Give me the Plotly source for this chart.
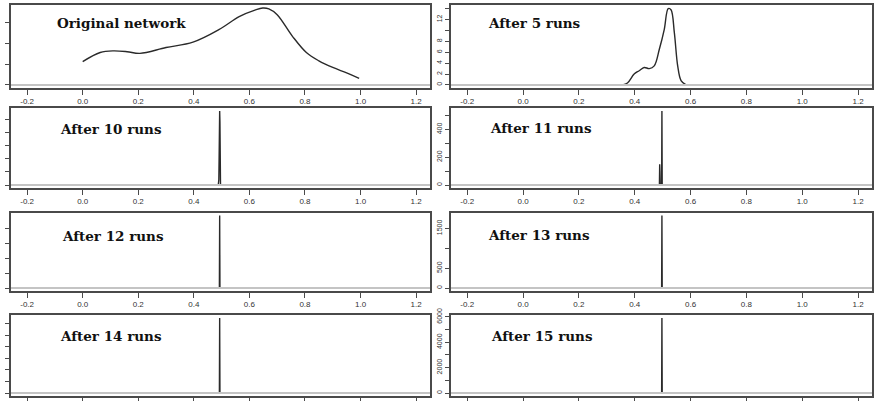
import plotly.graph_objects as go
from plotly.subplots import make_subplots

# ---- data ----
titles = ["Original network", "After 5 runs", "After 10 runs", "After 11 runs",
          "After 12 runs", "After 13 runs", "After 14 runs", "After 15 runs"]

orig_x = [0.0, 0.063, 0.11, 0.16, 0.206, 0.30, 0.397, 0.49, 0.565, 0.62, 0.648, 0.67, 0.70,
          0.755, 0.805, 0.85, 0.90, 0.95, 0.995]
orig_y = [0.56, 0.78, 0.82, 0.80, 0.76, 0.90, 1.03, 1.33, 1.65, 1.80, 1.85, 1.83, 1.69,
          1.17, 0.78, 0.58, 0.42, 0.29, 0.16]

run5_x = [0.356, 0.374, 0.398, 0.416, 0.434, 0.452, 0.47, 0.488, 0.506, 0.52, 0.53,
          0.542, 0.554, 0.566, 0.584]
run5_y = [0.0, 0.36, 2.0, 2.6, 3.2, 3.0, 3.5, 6.5, 10.2, 14.0, 13.8, 9.6, 3.5, 0.8, 0.0]

run10_x = [0.488, 0.490, 0.491, 0.492, 0.493, 0.494, 0.496]
run10_y = [0, 40, 200, 480, 567, 480, 0]

run11_x = [0.4885, 0.4895, 0.4905, 0.4915, 0.4965, 0.4975, 0.4985]
run11_y = [0, 150, 100, 0, 0, 534, 0]

run12_x = [0.492, 0.493, 0.494]
run12_y = [0, 2440, 0]

run13_x = [0.4965, 0.4975, 0.4985]
run13_y = [0, 1824, 0]

run14_x = [0.492, 0.493, 0.494]
run14_y = [0, 6500, 0]

run15_x = [0.4965, 0.4975, 0.4985]
run15_y = [0, 5917, 0]

series = [(orig_x, orig_y), (run5_x, run5_y), (run10_x, run10_y), (run11_x, run11_y),
          (run12_x, run12_y), (run13_x, run13_y), (run14_x, run14_y), (run15_x, run15_y)]
peaks = [1.85, 14.1, 567, 534, 2440, 1824, 6500, 5917]

x_ticks = [-0.2, 0.0, 0.2, 0.4, 0.6, 0.8, 1.0, 1.2]
x_ticktext = ["-0.2", "0.0", "0.2", "0.4", "0.6", "0.8", "1.0", "1.2"]

y_tickvals = [
    [0, 0.5, 1.0, 1.5],
    [0, 2, 4, 6, 8, 10, 12, 14],
    [0, 100, 200, 300, 400, 500],
    [0, 100, 200, 300, 400, 500],
    [0, 500, 1000, 1500, 2000],
    [0, 500, 1000, 1500],
    [0, 1000, 2000, 3000, 4000, 5000, 6000],
    [0, 1000, 2000, 3000, 4000, 5000, 6000],
]
y_ticktext = [
    None,
    ["0", "2", "4", "6", "8", "", "12", ""],
    None,
    ["0", "", "200", "", "400", ""],
    None,
    ["0", "500", "", "1500"],
    None,
    ["0", "", "2000", "", "4000", "", "6000"],
]

# ---- layout ----
W, H = 876, 401
col_px = [(11, 430), (451, 872)]
row_px = [(5, 88), (108, 188), (212.7, 291), (315, 396)]

fig = make_subplots(rows=4, cols=2)

line_col = "#4a4a4a"
for i, (xs, ys) in enumerate(series):
    r, c = i // 2 + 1, i % 2 + 1
    smooth = i < 2
    fig.add_trace(go.Scatter(x=xs, y=ys, mode="lines",
                             line=dict(color="#2a2a2a", width=1.4,
                                       shape="spline" if smooth else "linear",
                                       smoothing=1.0 if smooth else None),
                             showlegend=False, hoverinfo="skip"), row=r, col=c)
    fig.add_hline(y=0, line=dict(color="#c4c4c4", width=2), row=r, col=c)

for i in range(8):
    r, c = i // 2, i % 2
    idx = "" if i == 0 else str(i + 1)
    x0, x1 = col_px[c]
    y0, y1 = row_px[r]
    M = peaks[i]
    fig.layout["xaxis" + idx].update(
        domain=[x0 / W, x1 / W], range=[-0.258, 1.25], automargin=False,
        tickvals=x_ticks, ticktext=x_ticktext, ticks="outside", ticklen=5,
        showticklabels=(r < 3),  # bottom-row labels fall outside the picture
        tickcolor=line_col, tickfont=dict(family="Liberation Sans", size=8, color="#333"),
        showline=True, mirror=True, linecolor=line_col, linewidth=1.5,
        showgrid=False, zeroline=False, fixedrange=True)
    yax = dict(
        domain=[1 - y1 / H, 1 - y0 / H], range=[-0.04 * M, 1.04 * M], automargin=False,
        tickvals=y_tickvals[i], ticks="outside", ticklen=4, tickcolor=line_col,
        showline=True, mirror=True, linecolor=line_col, linewidth=1.5,
        showgrid=False, zeroline=False, fixedrange=True)
    if y_ticktext[i] is None:
        yax["showticklabels"] = False
    else:
        yax["ticktext"] = y_ticktext[i]
        yax["tickangle"] = -90
        yax["tickfont"] = dict(family="Liberation Sans", size=7, color="#333")
    fig.layout["yaxis" + idx].update(**yax)

title_pos = [(55, 22.7), (486, 22.7), (58, 129), (488, 128),
             (60, 236), (486, 234.7), (58, 335.7), (489, 336)]
for t, (tx, ty) in zip(titles, title_pos):
    fig.add_annotation(text="<b>" + t + "</b>", xref="paper", yref="paper",
                       x=tx / W, y=1 - ty / H, xanchor="left", yanchor="middle",
                       showarrow=False,
                       font=dict(family="DejaVu Serif", size=13.5, color="#111"))

fig.update_layout(width=W, height=H, margin=dict(l=0, r=0, t=0, b=0, autoexpand=False),
                  paper_bgcolor="white", plot_bgcolor="white", showlegend=False)

fig.write_html("out.html")
